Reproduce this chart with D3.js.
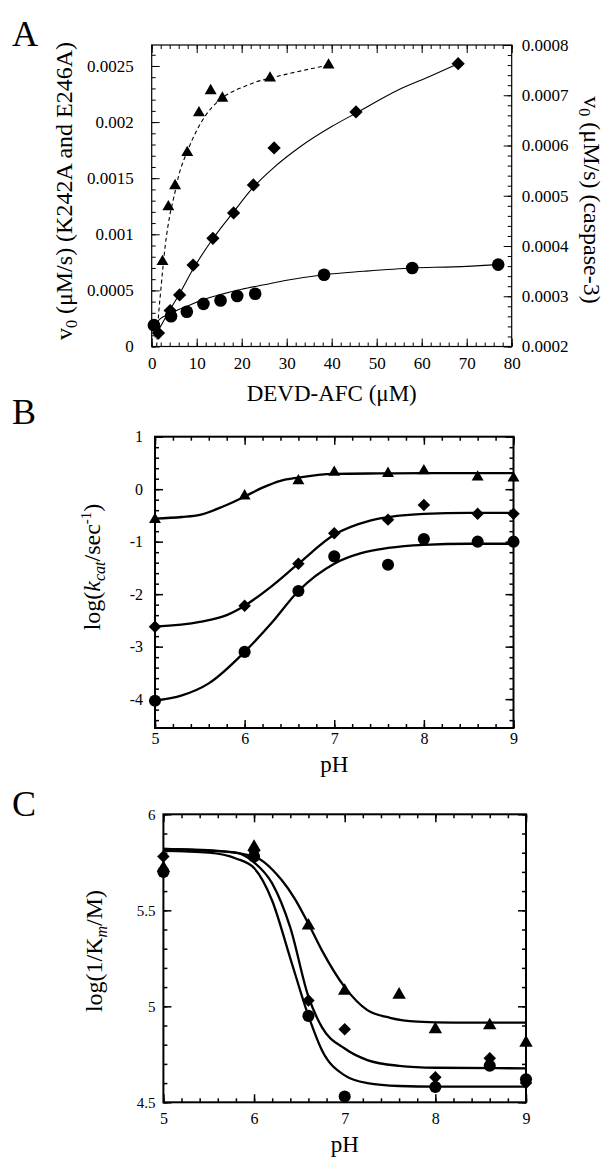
<!DOCTYPE html>
<html><head><meta charset="utf-8">
<script src="https://cdn.jsdelivr.net/npm/d3@7"></script>
<style>body{margin:0;background:#fff}svg{display:block}</style>
</head><body>
<script>
// ---------- Panel A data ----------
const aXTicks = [0,10,20,30,40,50,60,70,80];
const aLeftTicks = [0,0.0005,0.001,0.0015,0.002,0.0025];
const aLeftLabels = ["0","0.0005","0.001","0.0015","0.002","0.0025"];
const aRightTicks = [0.0002,0.0003,0.0004,0.0005,0.0006,0.0007,0.0008];
const aRightLabels = ["0.0002","0.0003","0.0004","0.0005","0.0006","0.0007","0.0008"];
// caspase-3 (triangles, right axis)
const aTriX = [2.4,3.7,5.2,7.9,10.5,13.1,15.7,26.3,39.3];
const aTriV = [0.000369,0.000478,0.00052,0.000586,0.000665,0.000709,0.000694,0.000734,0.00076];
const aTriFitX = [1.1,1.5,2,3,4,5,6,8,10,12,15,17.5,20.5,23,26.3,30,35,39.3];
const aTriFitV = [0.0002,0.00026,0.00031,0.0004,0.00046,0.0005,0.00054,0.00059,0.00063,0.00066,0.00069,0.000705,0.000717,0.000726,0.000734,0.000742,0.000752,0.00076];
// diamonds (left axis)
const aDiaX = [1.5,4.1,6.2,9.2,13.6,18.2,22.6,27.2,45.4,68.1];
const aDiaV = [0.00012,0.00032,0.00046,0.000726,0.000964,0.00119,0.00144,0.00177,0.00209,0.00252];
const aDiaFitX = [0.7,2,4.1,6.2,9.2,13.6,18.2,22.6,27,33,40,45.4,55,62,68.1];
const aDiaFitV = [0.00008,0.00018,0.00033,0.00047,0.00069,0.00096,0.0012,0.00142,0.00159,0.00178,0.00196,0.00208,0.00229,0.00241,0.00252];
// circles (left axis)
const aCirX = [0.5,4.3,7.8,11.5,15.3,19.0,23.0,38.3,57.9,77.0];
const aCirV = [0.00019,0.00027,0.00031,0.00038,0.00041,0.00045,0.00047,0.00064,0.0007,0.00073];
const aCirFitX = [0.8,2,4,6,8,11.5,15,20,25,30,38.3,47,58,67,77];
const aCirFitV = [0.0002,0.00025,0.00029,0.00033,0.00036,0.00042,0.00046,0.00051,0.00055,0.00059,0.00064,0.00067,0.0007,0.00071,0.00073];

// ---------- Panel B data ----------
const phTicks = [5,6,7,8,9];
const bYTicks = [-4,-3,-2,-1,0,1];
const bYLabels = ["-4","-3","-2","-1","0","1"];
const bPH = [5,6,6.6,7,7.6,8,8.6,9];
const bTri = [-0.58,-0.13,0.16,0.32,0.30,0.35,0.23,0.21];
const bDia = [-2.62,-2.22,-1.42,-0.84,-0.58,-0.30,-0.47,-0.47];
const bCir = [-4.03,-3.10,-1.94,-1.28,-1.44,-0.95,-1.0,-1.0];
const bTriFitX = [5,5.3,5.5,5.76,6,6.2,6.4,6.6,7,7.5,8,9];
const bTriFitV = [-0.56,-0.53,-0.49,-0.33,-0.14,0.03,0.16,0.22,0.29,0.30,0.305,0.305];
const bDiaFitX = [5,5.5,5.8,6,6.3,6.6,7,7.4,7.7,8,8.5,9];
const bDiaFitV = [-2.62,-2.53,-2.40,-2.22,-1.85,-1.42,-0.87,-0.60,-0.51,-0.47,-0.45,-0.45];
const bCirFitX = [5,5.3,5.6,6,6.3,6.6,7,7.3,7.6,8,8.5,9];
const bCirFitV = [-4.03,-3.93,-3.70,-3.10,-2.55,-1.94,-1.42,-1.22,-1.12,-1.06,-1.04,-1.04];

// ---------- Panel C data ----------
const cYTicks = [4.5,5,5.5,6];
const cYLabels = ["4.5","5","5.5","6"];
const cTriPH = [5,6,6.6,7,7.6,8,8.6,9];
const cTri = [5.72,5.83,5.42,5.08,5.06,4.88,4.90,4.81];
const cDiaPH = [5,6,6.6,7,8,8.6,9];
const cDia = [5.78,5.81,5.03,4.88,4.63,4.73,4.60];
const cCirPH = [5,6,6.6,7,8,8.6,9];
const cCir = [5.70,5.78,4.95,4.53,4.58,4.69,4.62];
const cTriFitX = [5,5.6,6,6.3,6.45,6.6,6.75,7,7.25,7.5,7.8,8.2,9];
const cTriFitV = [5.82,5.81,5.78,5.66,5.56,5.43,5.29,5.10,4.98,4.94,4.92,4.915,4.915];
const cDiaFitX = [5,5.5,5.8,6,6.2,6.4,6.6,6.75,7,7.25,7.6,8,9];
const cDiaFitV = [5.82,5.81,5.80,5.75,5.64,5.41,5.05,4.89,4.78,4.72,4.69,4.68,4.677];
const cCirFitX = [5,5.5,5.8,6,6.2,6.4,6.6,6.75,7,7.25,7.6,8,9];
const cCirFitV = [5.81,5.80,5.77,5.72,5.55,5.25,4.95,4.77,4.64,4.60,4.585,4.582,4.582];

const FONT = "'Liberation Serif','Times New Roman',serif";
const svg = d3.select("body").append("svg").attr("width",610).attr("height",1163)
  .style("font-family",FONT);

function range(a,b,s){const r=[];for(let v=a;v<=b+s*1e-6;v+=s)r.push(+v.toFixed(8));return r;}

function drawAxis(gen, transform, values, size, fmt, pad, fs, sw){
  const g = svg.append("g").attr("transform",transform)
    .call(gen.tickValues(values).tickSize(size).tickPadding(pad).tickFormat(fmt||(()=>"")));
  g.select(".domain").remove();
  g.selectAll("line").attr("stroke","#000").attr("stroke-width",sw);
  g.attr("font-family",FONT).attr("font-size",fs);
  g.selectAll("text").attr("fill","#000");
  return g;
}

function marks(x,y,xs,ys,type,size){
  const sym = type==="tri"?d3.symbolTriangle:(type==="dia"?d3.symbolSquare:d3.symbolCircle);
  svg.append("g").selectAll("path").data(xs.map((d,i)=>[d,ys[i]])).join("path")
    .attr("d",d3.symbol().type(sym).size(size))
    .attr("transform",d=>`translate(${x(d[0])},${y(d[1])})`+(type==="dia"?" rotate(45)":""))
    .attr("fill","#000");
}
function curve(x,y,xs,ys,sw,dash){
  svg.append("path").datum(xs.map((d,i)=>[d,ys[i]]))
    .attr("d",d3.line().x(d=>x(d[0])).y(d=>y(d[1])).curve(d3.curveMonotoneX))
    .attr("fill","none").attr("stroke","#000").attr("stroke-width",sw)
    .attr("stroke-dasharray",dash||null);
}

// ================= Panel A =================
const axX = d3.scaleLinear().domain([0,80]).range([151.7,511.7]);
const ayL = d3.scaleLinear().domain([0,0.002687]).range([346.5,45]);
const ayR = d3.scaleLinear().domain([0.0002,0.0008]).range([346.5,45]);
{
  const L=151.7,R=511.7,T=45,B=346.5;
  drawAxis(d3.axisBottom(axX),`translate(0,${B})`,range(0,80,2),-4,null,0,16,1);
  drawAxis(d3.axisBottom(axX),`translate(0,${B})`,aXTicks,-8,d=>d,10,17,1);
  drawAxis(d3.axisTop(axX),`translate(0,${T})`,range(0,80,2),-4,null,0,16,1);
  drawAxis(d3.axisTop(axX),`translate(0,${T})`,aXTicks,-8,null,0,16,1);
  drawAxis(d3.axisLeft(ayL),`translate(${L},0)`,range(0,0.0026,0.0001),-4,null,0,16,1);
  drawAxis(d3.axisLeft(ayL),`translate(${L},0)`,aLeftTicks,-8,(d,i)=>aLeftLabels[i],18,17,1);
  drawAxis(d3.axisRight(ayR),`translate(${R},0)`,range(0.0002,0.0008,0.00002),-4,null,0,16,1);
  drawAxis(d3.axisRight(ayR),`translate(${R},0)`,aRightTicks,-8,(d,i)=>aRightLabels[i],10,17,1);
  svg.append("rect").attr("x",L).attr("y",T).attr("width",R-L).attr("height",B-T)
    .attr("fill","none").attr("stroke","#000").attr("stroke-width",1.2);

  curve(axX,ayR,aTriFitX,aTriFitV,1.1,"4,3");
  curve(axX,ayL,aDiaFitX,aDiaFitV,1.1);
  curve(axX,ayL,aCirFitX,aCirFitV,1.1);
  marks(axX,ayR,aTriX,aTriV,"tri",62);
  marks(axX,ayL,aDiaX,aDiaV,"dia",88);
  marks(axX,ayL,aCirX,aCirV,"cir",125);

  svg.append("text").attr("x",12).attr("y",46).attr("font-size",36).text("A");
  svg.append("text").attr("x",(L+R)/2).attr("y",401).attr("text-anchor","middle").attr("font-size",23)
    .text("DEVD-AFC (\u03BCM)");
  const tl = svg.append("text").attr("transform","translate(72,191) rotate(-90)")
    .attr("text-anchor","middle").attr("font-size",24);
  tl.append("tspan").text("v");
  tl.append("tspan").attr("font-size",16).attr("dy",5).text("0");
  tl.append("tspan").attr("dy",-5).text(" (\u03BCM/s) (K242A and E246A)");
  const tr = svg.append("text").attr("transform","translate(584,200) rotate(90)")
    .attr("text-anchor","middle").attr("font-size",24);
  tr.append("tspan").text("v");
  tr.append("tspan").attr("font-size",16).attr("dy",5).text("0");
  tr.append("tspan").attr("dy",-5).text(" (\u03BCM/s) (caspase-3)");
}

// ================= Panel B =================
const bx = d3.scaleLinear().domain([5,9]).range([155,513.5]);
const by = d3.scaleLinear().domain([-4.55,1]).range([728,436.7]);
{
  const L=155,R=513.5,T=436.7,B=728;
  drawAxis(d3.axisBottom(bx),`translate(0,${B})`,range(5,9,0.2),-4,null,0,16,1.5);
  drawAxis(d3.axisBottom(bx),`translate(0,${B})`,phTicks,-8,d=>d,5,16,1.5);
  drawAxis(d3.axisTop(bx),`translate(0,${T})`,range(5,9,0.2),-4,null,0,16,1.5);
  drawAxis(d3.axisTop(bx),`translate(0,${T})`,phTicks,-8,null,0,16,1.5);
  drawAxis(d3.axisLeft(by),`translate(${L},0)`,range(-4.4,1,0.2),-4,null,0,16,1.5);
  drawAxis(d3.axisLeft(by),`translate(${L},0)`,bYTicks,-8,(d,i)=>bYLabels[i],12,16,1.5);
  drawAxis(d3.axisRight(by),`translate(${R},0)`,range(-4.4,1,0.2),-4,null,0,16,1.5);
  drawAxis(d3.axisRight(by),`translate(${R},0)`,bYTicks,-8,null,0,16,1.5);
  svg.append("rect").attr("x",L).attr("y",T).attr("width",R-L).attr("height",B-T)
    .attr("fill","none").attr("stroke","#000").attr("stroke-width",2);

  curve(bx,by,bTriFitX,bTriFitV,2.3);
  curve(bx,by,bDiaFitX,bDiaFitV,2.3);
  curve(bx,by,bCirFitX,bCirFitV,2.3);
  marks(bx,by,bPH,bTri,"tri",62);
  marks(bx,by,bPH,bDia,"dia",78);
  marks(bx,by,bPH,bCir,"cir",115);

  svg.append("text").attr("x",12).attr("y",424).attr("font-size",36).text("B");
  svg.append("text").attr("x",(L+R)/2).attr("y",772).attr("text-anchor","middle").attr("font-size",23).text("pH");
  const t = svg.append("text").attr("transform","translate(100,567) rotate(-90)")
    .attr("text-anchor","middle").attr("font-size",24);
  t.append("tspan").text("log(");
  t.append("tspan").attr("font-style","italic").text("k");
  t.append("tspan").attr("font-style","italic").attr("font-size",16).attr("dy",5).text("cat");
  t.append("tspan").attr("dy",-5).text("/sec");
  t.append("tspan").attr("font-size",15).attr("dy",-9).text("-1");
  t.append("tspan").attr("dy",9).text(")");
}

// ================= Panel C =================
const cx = d3.scaleLinear().domain([5,9]).range([163.4,526]);
const cy = d3.scaleLinear().domain([4.5,6]).range([1102.3,814.3]);
{
  const L=163.4,R=526,T=814.3,B=1102.3;
  drawAxis(d3.axisBottom(cx),`translate(0,${B})`,range(5,9,0.2),-4,null,0,16,1.5);
  drawAxis(d3.axisBottom(cx),`translate(0,${B})`,phTicks,-8,d=>d,10,16,1.5);
  drawAxis(d3.axisTop(cx),`translate(0,${T})`,range(5,9,0.2),-4,null,0,16,1.5);
  drawAxis(d3.axisTop(cx),`translate(0,${T})`,phTicks,-8,null,0,16,1.5);
  drawAxis(d3.axisLeft(cy),`translate(${L},0)`,range(4.5,6,0.1),-4,null,0,15,1.5);
  drawAxis(d3.axisLeft(cy),`translate(${L},0)`,cYTicks,-8,(d,i)=>cYLabels[i],8,15,1.5);
  drawAxis(d3.axisRight(cy),`translate(${R},0)`,range(4.5,6,0.1),-4,null,0,15,1.5);
  drawAxis(d3.axisRight(cy),`translate(${R},0)`,cYTicks,-8,null,0,15,1.5);
  svg.append("rect").attr("x",L).attr("y",T).attr("width",R-L).attr("height",B-T)
    .attr("fill","none").attr("stroke","#000").attr("stroke-width",2);

  curve(cx,cy,cTriFitX,cTriFitV,2.3);
  curve(cx,cy,cDiaFitX,cDiaFitV,2.3);
  curve(cx,cy,cCirFitX,cCirFitV,2.3);
  marks(cx,cy,cTriPH,cTri,"tri",78);
  marks(cx,cy,cDiaPH,cDia,"dia",78);
  marks(cx,cy,cCirPH,cCir,"cir",115);

  svg.append("text").attr("x",12).attr("y",816).attr("font-size",36).text("C");
  svg.append("text").attr("x",(L+R)/2).attr("y",1152).attr("text-anchor","middle").attr("font-size",23).text("pH");
  const t = svg.append("text").attr("transform","translate(102,951) rotate(-90)")
    .attr("text-anchor","middle").attr("font-size",24);
  t.append("tspan").text("log(1/K");
  t.append("tspan").attr("font-style","italic").attr("font-size",16).attr("dy",5).text("m");
  t.append("tspan").attr("dy",-5).text("/M)");
}
</script>
</body></html>
